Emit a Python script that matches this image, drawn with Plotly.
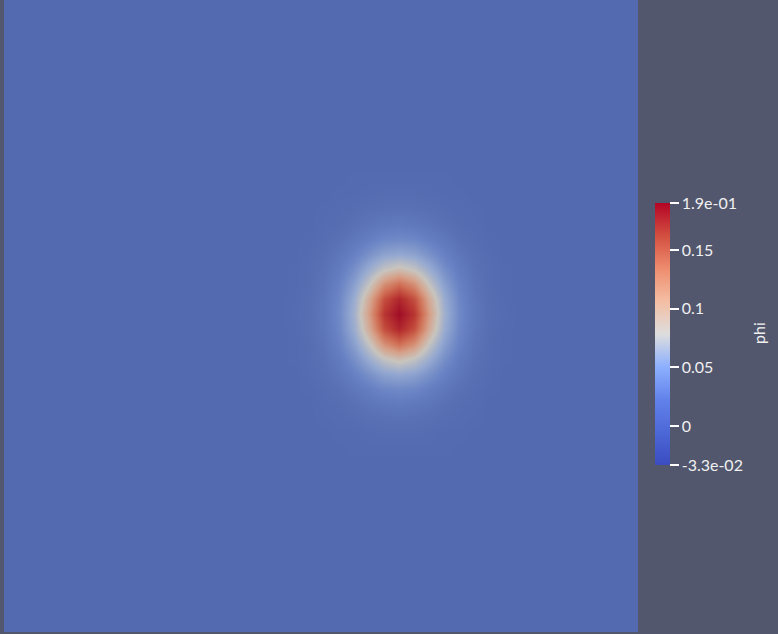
import plotly.graph_objects as go

# ---- data ----
field_name = "phi"
phi_min = -0.033
phi_max = 0.19
tick_vals = [-0.033, 0, 0.05, 0.1, 0.15, 0.19]
tick_text = ["-3.3e-02", "0", "0.05", "0.1", "0.15", "1.9e-01"]

# sample positions (pixels inside the render view) of the phi field
x_samples = [-60, 275, 290, 305, 320, 335, 350, 365, 380, 395, 410, 425, 440,
             455, 470, 485, 500, 515, 700]
y_samples = [-60, 164, 179, 194, 209, 224, 239, 254, 269, 284, 299, 314, 329,
             344, 359, 374, 389, 404, 419, 434, 449, 464, 700]

Z0 = [0] * 19
# phi values (rows follow y_samples, columns follow x_samples)
phi_rows = [
    Z0,
    Z0,
    [0, 0, 0, 0, 0, 0, 0.001, 0.001, 0.001, 0.001, 0.001, 0.001, 0.001, 0, 0, 0, 0, 0, 0],
    [0, 0, 0, 0, 0, 0.001, 0.001, 0.002, 0.003, 0.003, 0.003, 0.002, 0.001, 0.001, 0, 0, 0, 0, 0],
    [0, 0, 0, 0, 0.001, 0.002, 0.003, 0.005, 0.006, 0.007, 0.006, 0.005, 0.003, 0.002, 0.001, 0, 0, 0, 0],
    [0, 0, 0, 0, 0.002, 0.003, 0.006, 0.010, 0.013, 0.015, 0.013, 0.010, 0.006, 0.003, 0.002, 0, 0, 0, 0],
    [0, 0, 0, 0.001, 0.003, 0.006, 0.012, 0.019, 0.026, 0.028, 0.026, 0.019, 0.012, 0.006, 0.003, 0.001, 0, 0, 0],
    [0, 0, 0, 0.002, 0.005, 0.011, 0.021, 0.034, 0.046, 0.050, 0.046, 0.034, 0.021, 0.011, 0.005, 0.002, 0, 0, 0],
    [0, 0, 0.001, 0.003, 0.007, 0.016, 0.032, 0.054, 0.075, 0.085, 0.075, 0.054, 0.032, 0.016, 0.007, 0.003, 0.001, 0, 0],
    [0, 0, 0.001, 0.003, 0.009, 0.022, 0.044, 0.076, 0.116, 0.135, 0.116, 0.076, 0.044, 0.022, 0.009, 0.003, 0.001, 0, 0],
    [0, 0, 0.001, 0.004, 0.011, 0.026, 0.054, 0.099, 0.152, 0.175, 0.152, 0.099, 0.054, 0.026, 0.011, 0.004, 0.001, 0, 0],
    [0, 0, 0.002, 0.004, 0.012, 0.028, 0.058, 0.108, 0.166, 0.190, 0.166, 0.108, 0.058, 0.028, 0.012, 0.004, 0.002, 0, 0],
    [0, 0, 0.001, 0.004, 0.011, 0.026, 0.054, 0.099, 0.152, 0.175, 0.152, 0.099, 0.054, 0.026, 0.011, 0.004, 0.001, 0, 0],
    [0, 0, 0.001, 0.003, 0.009, 0.022, 0.044, 0.076, 0.116, 0.135, 0.116, 0.076, 0.044, 0.022, 0.009, 0.003, 0.001, 0, 0],
    [0, 0, 0.001, 0.003, 0.007, 0.016, 0.032, 0.054, 0.075, 0.085, 0.075, 0.054, 0.032, 0.016, 0.007, 0.003, 0.001, 0, 0],
    [0, 0, 0, 0.002, 0.005, 0.011, 0.021, 0.034, 0.046, 0.050, 0.046, 0.034, 0.021, 0.011, 0.005, 0.002, 0, 0, 0],
    [0, 0, 0, 0.001, 0.003, 0.006, 0.012, 0.019, 0.026, 0.028, 0.026, 0.019, 0.012, 0.006, 0.003, 0.001, 0, 0, 0],
    [0, 0, 0, 0, 0.002, 0.003, 0.006, 0.010, 0.013, 0.015, 0.013, 0.010, 0.006, 0.003, 0.002, 0, 0, 0, 0],
    [0, 0, 0, 0, 0.001, 0.002, 0.003, 0.005, 0.006, 0.007, 0.006, 0.005, 0.003, 0.002, 0.001, 0, 0, 0, 0],
    [0, 0, 0, 0, 0, 0.001, 0.001, 0.002, 0.003, 0.003, 0.003, 0.002, 0.001, 0.001, 0, 0, 0, 0, 0],
    [0, 0, 0, 0, 0, 0, 0.001, 0.001, 0.001, 0.001, 0.001, 0.001, 0.001, 0, 0, 0, 0, 0, 0],
    Z0,
    Z0,
]

# ---- styling ----
BG = "#52576e"
TEXT = "#f0f0f0"
FONT = "Lato"
# colour legend: ParaView "Cool to Warm"
bar_scale = [
    [0.0, "rgb(59,76,192)"], [0.125, "rgb(77,104,215)"], [0.25, "rgb(98,130,234)"],
    [0.375, "rgb(141,176,254)"], [0.5, "rgb(221,221,221)"], [0.625, "rgb(244,190,163)"],
    [0.75, "rgb(238,140,110)"], [0.875, "rgb(211,79,64)"], [1.0, "rgb(180,4,38)"],
]
t0 = (0 - phi_min) / (phi_max - phi_min)
SURFACE_ZERO = "rgb(84,106,176)"
# same map as it appears on the lit surface
surf_scale = [
    [0.0, "rgb(70,92,170)"], [t0, SURFACE_ZERO], [0.25, "rgb(104,130,196)"],
    [0.375, "rgb(148,168,208)"], [0.5, "rgb(200,196,190)"], [0.625, "rgb(214,160,136)"],
    [0.75, "rgb(208,112,86)"], [0.875, "rgb(188,60,52)"], [1.0, "rgb(160,12,38)"],
]

W_PLOT, H_PLOT = 634, 632
fig = go.Figure()
fig.add_trace(go.Heatmap(
    x=x_samples, y=y_samples, z=phi_rows,
    zmin=phi_min, zmax=phi_max, zsmooth="best",
    colorscale=surf_scale, showscale=False, hoverinfo="skip",
))
fig.add_trace(go.Scatter(
    x=[-1000], y=[-1000], mode="markers", hoverinfo="skip", showlegend=False,
    marker=dict(
        color=[0], cmin=phi_min, cmax=phi_max, colorscale=bar_scale,
        showscale=True,
        colorbar=dict(
            x=(655 - 4) / W_PLOT, xanchor="left", xpad=0,
            y=1 - 334 / H_PLOT, yanchor="middle", ypad=0,
            lenmode="pixels", len=262, thickness=15,
            outlinewidth=0,
            tickmode="array", tickvals=tick_vals, ticktext=tick_text,
            ticks="outside", ticklen=9, tickwidth=2, tickcolor="#ffffff",
            tickfont=dict(family=FONT, size=16, color=TEXT),
        ),
    ),
))
fig.add_annotation(
    text=field_name, xref="paper", yref="paper",
    x=(758 - 4) / W_PLOT, y=1 - 333 / H_PLOT,
    xanchor="center", yanchor="middle", showarrow=False, textangle=-90,
    font=dict(family=FONT, size=16, color=TEXT),
)
fig.update_layout(
    width=778, height=634,
    margin=dict(l=4, r=778 - 4 - W_PLOT, t=0, b=634 - H_PLOT),
    paper_bgcolor=BG, plot_bgcolor=SURFACE_ZERO,
    xaxis=dict(range=[0, W_PLOT], visible=False, fixedrange=True),
    yaxis=dict(range=[H_PLOT, 0], visible=False, fixedrange=True),
    showlegend=False,
)
fig.write_html("out.html")
